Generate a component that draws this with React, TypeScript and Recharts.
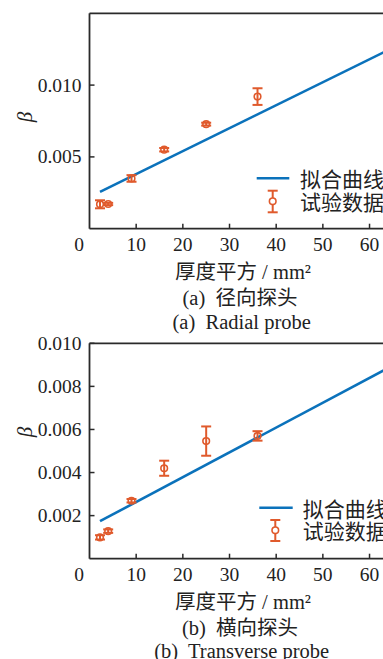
import React from 'react';
import { ComposedChart, Line, Scatter, XAxis, YAxis, ErrorBar, ReferenceLine } from 'recharts';

// ---- data ----
const thicknessSq = [2.25, 4, 9, 16, 25, 36, 64];
const radialBeta = [0.0017, 0.00172, 0.0035, 0.0055, 0.00728, 0.0092, 0.0108];
const radialErr = [0.00028, 0.00008, 0.00023, 0.00012, 0.0001, 0.00058, 0.0008];
const radialFitX = [2.25, 64];
const radialFitY = [0.00256, 0.01244];
const transBeta = [0.00099, 0.00128, 0.00269, 0.0042, 0.00546, 0.0057, 0.0076];
const transErr = [0.0001, 0.00008, 0.00008, 0.00035, 0.00068, 0.00022, 0.0001];
const transFitX = [2.25, 64];
const transFitY = [0.00174, 0.00885];
const xTicks = [0, 10, 20, 30, 40, 50, 60, 70];
const radialYTicks = [0.005, 0.01];
const transYTicks = [0.002, 0.004, 0.006, 0.008, 0.01];
const legendLabels = ['拟合曲线', '试验数据'];

const BLUE = '#0B72BB';
const ORANGE = '#E05A2C';
const FRAME = '#2a2a2a';
const SERIF = "'Liberation Serif', 'Times New Roman', 'Noto Sans CJK SC', serif";

const XTick = (props: any) => {
  const { x, y, payload } = props;
  const v = payload.value;
  return (
    <g>
      {v !== 0 && <line x1={x} x2={x} y1={y} y2={y - 5} stroke={FRAME} strokeWidth={1.5} />}
      <text x={v === 0 ? x - 10.5 : x} y={y + 16} textAnchor="middle" dominantBaseline="central"
        style={{ fontFamily: SERIF }} fontSize={19.5} fill="#222">{v}</text>
    </g>
  );
};

const makeYTick = (digits: number) => (props: any) => {
  const { x, y, payload } = props;
  return (
    <g>
      <line x1={x} x2={x + 5} y1={y} y2={y} stroke={FRAME} strokeWidth={1.5} />
      <text x={x - 8} y={y} textAnchor="end" dominantBaseline="central"
        style={{ fontFamily: SERIF }} fontSize={19.5} fill="#222">{Number(payload.value).toFixed(digits)}</text>
    </g>
  );
};

const Ring = (props: any) => (
  <circle cx={props.cx} cy={props.cy} r={3.3} fill="none" stroke={ORANGE} strokeWidth={1.6} />
);

function Panel({ top, means, errs, fitX, fitY, yMax, yTicks }: any) {
  const pts = thicknessSq.map((x, i) => ({ x, y: means[i], err: errs[i] }));
  const fit = fitX.map((x: number, i: number) => ({ x, y: fitY[i] }));
  return (
    <div style={{ position: 'absolute', left: 0, top }}>
      <ComposedChart width={440} height={260} margin={{ top: 13.3, right: 23.8, left: 0, bottom: 0 }}>
        <XAxis type="number" dataKey="x" domain={[0, 70]} ticks={xTicks} allowDataOverflow
          height={31.3} tickSize={0} tickMargin={0} tickLine={false}
          axisLine={{ stroke: FRAME, strokeWidth: 1.8 }} tick={<XTick />} interval={0} />
        <YAxis type="number" domain={[0, yMax]} ticks={yTicks} allowDataOverflow width={89.5}
          tickSize={0} tickMargin={0} tickLine={false}
          axisLine={{ stroke: FRAME, strokeWidth: 1.8 }} tick={makeYTick(3)} interval={0} />
        <ReferenceLine y={yMax} stroke={FRAME} strokeWidth={1.8} />
        <ReferenceLine x={70} stroke={FRAME} strokeWidth={1.8} />
        <Line data={fit} dataKey="y" type="linear" stroke={BLUE} strokeWidth={2.6} dot={false}
          isAnimationActive={false} />
        <Scatter data={pts} dataKey="y" shape={<Ring />} fill={ORANGE} isAnimationActive={false}>
          <ErrorBar dataKey="err" direction="y" width={5} stroke={ORANGE} strokeWidth={2}
            isAnimationActive={false} />
        </Scatter>
      </ComposedChart>
    </div>
  );
}

function Caption({ cx, cy, text, size = 20.5 }: any) {
  return (
    <div style={{
      position: 'absolute', left: cx - 150, top: cy - 12, width: 300, height: 24, lineHeight: '24px',
      textAlign: 'center', fontFamily: SERIF, fontSize: size, color: '#222', whiteSpace: 'pre',
    }}>{text}</div>
  );
}

function Beta({ cy }: any) {
  return (
    <div style={{
      position: 'absolute', left: 25 - 15, top: cy - 12, width: 30, height: 24, lineHeight: '24px',
      textAlign: 'center', fontFamily: SERIF, fontStyle: 'italic', fontSize: 21, color: '#222',
      transform: 'rotate(-90deg)',
    }}>β</div>
  );
}

function LegendBox({ lineY, lineX1, lineX2, textX, iconX, barTop, barBottom, circY, text2Y }: any) {
  return (
    <>
      <svg style={{ position: 'absolute', left: 0, top: 0 }} width={383} height={659}>
        <line x1={lineX1} x2={lineX2} y1={lineY} y2={lineY} stroke={BLUE} strokeWidth={2.6} />
        <line x1={iconX} x2={iconX} y1={barTop} y2={barBottom} stroke={ORANGE} strokeWidth={2} />
        <line x1={iconX - 5} x2={iconX + 5} y1={barTop} y2={barTop} stroke={ORANGE} strokeWidth={2} />
        <line x1={iconX - 5} x2={iconX + 5} y1={barBottom} y2={barBottom} stroke={ORANGE} strokeWidth={2} />
        <circle cx={iconX} cy={circY} r={3.3} fill="white" stroke={ORANGE} strokeWidth={1.6} />
      </svg>
      <div style={{ position: 'absolute', left: textX, top: lineY - 13, lineHeight: '26px', fontSize: 21,
        fontFamily: "'Noto Sans CJK SC', sans-serif", color: '#222', whiteSpace: 'nowrap' }}>{legendLabels[0]}</div>
      <div style={{ position: 'absolute', left: textX, top: text2Y - 13, lineHeight: '26px', fontSize: 21,
        fontFamily: "'Noto Sans CJK SC', sans-serif", color: '#222', whiteSpace: 'nowrap' }}>{legendLabels[1]}</div>
    </>
  );
}

export default function App() {
  return (
    <div style={{ position: 'absolute', left: 0, top: 0, width: 383, height: 659, overflow: 'hidden', background: '#fff' }}>
      <Panel top={0} means={radialBeta} errs={radialErr} fitX={radialFitX} fitY={radialFitY}
        yMax={0.015} yTicks={radialYTicks} />
      <Panel top={330} means={transBeta} errs={transErr} fitX={transFitX} fitY={transFitY}
        yMax={0.01} yTicks={transYTicks} />
      <Beta cy={116.7} />
      <Beta cy={431.7} />
      <LegendBox lineY={178.3} lineX1={256.7} lineX2={289.3} textX={300} iconX={272.7}
        barTop={190.7} barBottom={212.3} circY={201.3} text2Y={201} />
      <LegendBox lineY={507.7} lineX1={259.3} lineX2={292.7} textX={302.7} iconX={275.3}
        barTop={520} barBottom={541} circY={530.3} text2Y={530} />
      <Caption cx={243} cy={271.7} text="厚度平方 / mm²" />
      <Caption cx={240} cy={297.7} text="(a)  径向探头" />
      <Caption cx={241.7} cy={321.7} text="(a)  Radial probe" />
      <Caption cx={243} cy={601.7} text="厚度平方 / mm²" />
      <Caption cx={240} cy={627.7} text="(b)  横向探头" />
      <Caption cx={241.7} cy={650.7} text="(b)  Transverse probe" />
    </div>
  );
}
